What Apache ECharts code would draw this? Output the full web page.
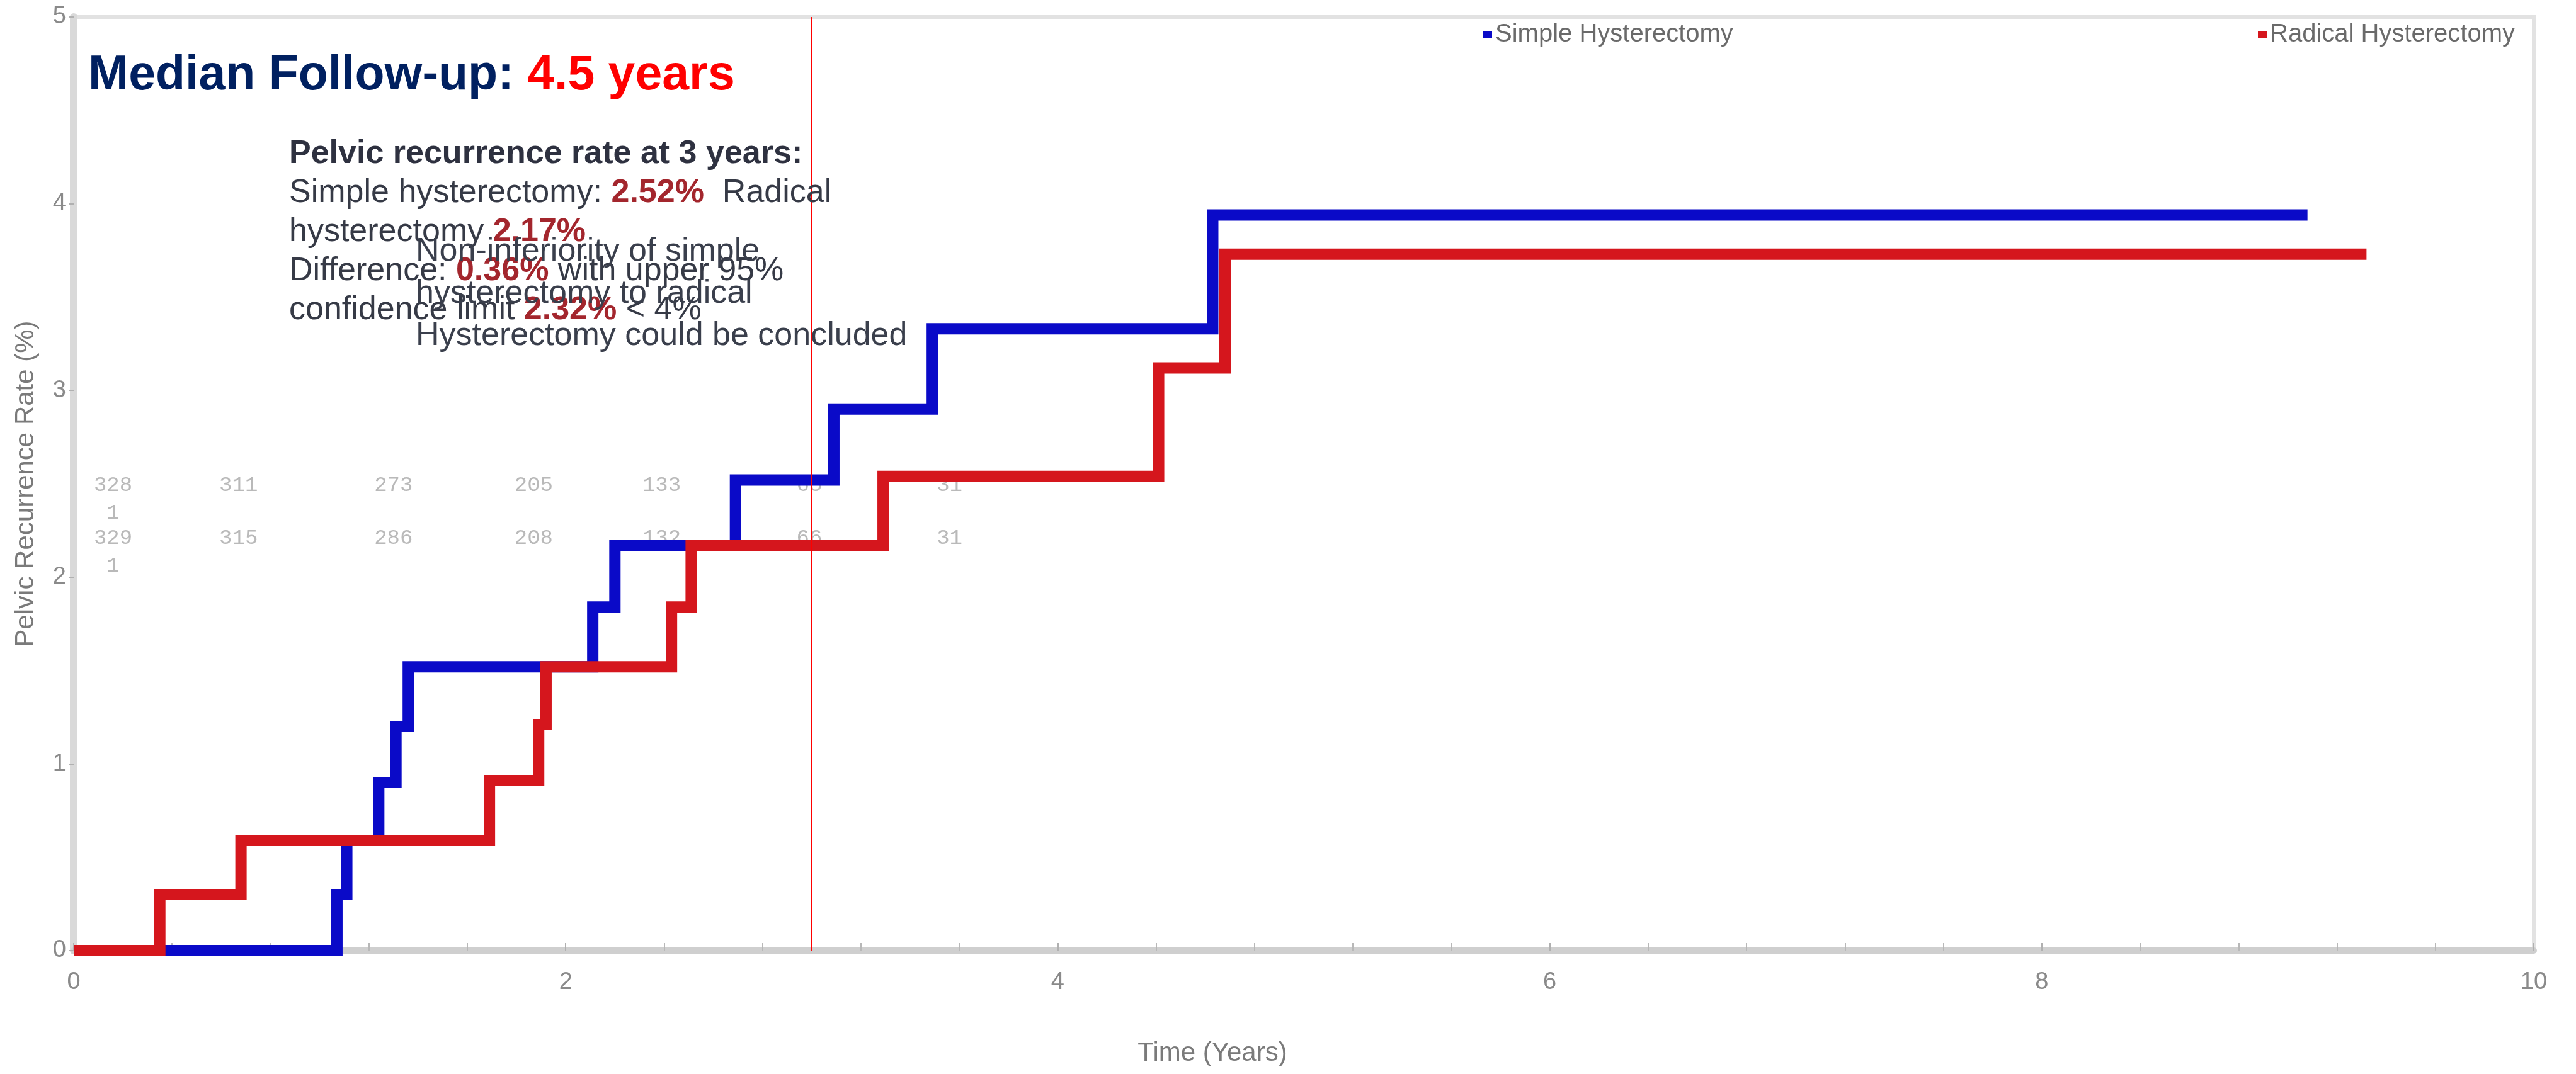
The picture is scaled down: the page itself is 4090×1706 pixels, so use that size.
<!DOCTYPE html>
<html>
<head>
<meta charset="utf-8">
<script src="https://cdn.jsdelivr.net/npm/echarts@6/dist/echarts.min.js"></script>
<style>
  html, body { margin: 0; padding: 0; background: #ffffff; }
  #chart { width: 4090px; height: 1706px; }
</style>
</head>
<body>
<div id="chart"></div>
<script>
// ---- data ----
const seriesNames = ['Simple Hysterectomy', 'Radical Hysterectomy'];
const simpleTimes  = [0, 1.07, 1.11, 1.24, 1.31, 1.36, 2.11, 2.20, 2.69, 3.09, 3.49, 4.63, 9.08];
const simpleRates  = [0, 0.30, 0.59, 0.90, 1.20, 1.52, 1.84, 2.17, 2.52, 2.90, 3.33, 3.94, 3.94];
const radicalTimes = [0, 0.35, 0.68, 1.69, 1.89, 1.92, 2.43, 2.51, 3.29, 4.41, 4.68, 9.32];
const radicalRates = [0, 0.30, 0.59, 0.91, 1.21, 1.52, 1.84, 2.17, 2.54, 3.12, 3.73, 3.73];
const landmarkYear = 3;
const riskTimes   = [0.16, 0.67, 1.30, 1.87, 2.39, 2.99, 3.56];
const riskSimple  = ['328\n1', '311', '273', '205', '133', '65', '31'];
const riskRadical = ['329\n1', '315', '286', '208', '132', '66', '31'];
const xTicks = [0, 2, 4, 6, 8, 10];
const yTicks = [0, 1, 2, 3, 4, 5];

const FONT = '"Liberation Sans", Arial, sans-serif';
const RISK_ROW1 = 2.49, RISK_ROW2 = 2.21;

const zip = (a, b) => a.map((v, i) => [v, b[i]]);

const chart = echarts.init(document.getElementById('chart'), null, { renderer: 'canvas' });

const riskLabel = {
  show: true, position: 'inside', verticalAlign: 'top', align: 'center', offset: [0, -22],
  formatter: p => p.data[2], fontFamily: '"Liberation Mono", "DejaVu Sans Mono", monospace',
  fontSize: 34, lineHeight: 44, color: '#a8a8a8'
};

const option = {
  animation: false,
  backgroundColor: '#ffffff',
  grid: { left: 117, right: 67, top: 27, bottom: 196, show: true, borderColor: '#e2e2e2', borderWidth: 6 },
  legend: [
    { data: [seriesNames[0]], left: 2350, top: 28, icon: 'rect', itemWidth: 14, itemHeight: 10,
      textStyle: { fontFamily: FONT, fontSize: 40, color: '#6a6a6a', lineHeight: 44 } },
    { data: [seriesNames[1]], left: 3580, top: 28, icon: 'rect', itemWidth: 14, itemHeight: 10,
      textStyle: { fontFamily: FONT, fontSize: 40, color: '#6a6a6a', lineHeight: 44 } }
  ],
  xAxis: {
    type: 'value', min: xTicks[0], max: xTicks[xTicks.length - 1], interval: 2,
    name: 'Time (Years)', nameLocation: 'middle', nameGap: 142,
    nameTextStyle: { fontFamily: FONT, fontSize: 42, color: '#7a7a7a', padding: [0, 290, 0, 0] },
    axisLine: { show: true, lineStyle: { color: '#cfcfcf', width: 10 } },
    axisTick: { show: true, inside: true, length: 12, lineStyle: { color: '#b0b0b0', width: 2 } },
    minorTick: { show: true, splitNumber: 5, length: 12, lineStyle: { color: '#b8b8b8', width: 2 } },
    axisLabel: { fontFamily: FONT, fontSize: 38, color: '#8a8a8a', margin: 32 },
    splitLine: { show: false }
  },
  yAxis: {
    type: 'value', min: yTicks[0], max: yTicks[yTicks.length - 1], interval: 1,
    name: 'Pelvic Recurrence Rate (%)', nameLocation: 'middle', nameGap: 55,
    nameTextStyle: { fontFamily: FONT, fontSize: 42, color: '#7a7a7a' },
    axisLine: { show: true, lineStyle: { color: '#d9d9d9', width: 12 } },
    axisTick: { show: true, length: 8, lineStyle: { color: '#b0b0b0', width: 2 } },
    axisLabel: { fontFamily: FONT, fontSize: 38, color: '#8a8a8a', margin: 12 },
    splitLine: { show: false }
  },
  series: [
    { name: 'riskSimple', type: 'scatter', symbolSize: 0, silent: true, z: 1,
      data: riskTimes.map((t, i) => [t, RISK_ROW1, riskSimple[i]]), label: riskLabel },
    { name: 'riskRadical', type: 'scatter', symbolSize: 0, silent: true, z: 1,
      data: riskTimes.map((t, i) => [t, RISK_ROW2, riskRadical[i]]), label: riskLabel },
    { name: seriesNames[0], type: 'line', step: 'end', showSymbol: false, symbol: 'none', clip: false, z: 3,
      color: '#0a0ac8',
      lineStyle: { color: '#0a0ac8', width: 18, cap: 'butt', join: 'miter' },
      data: zip(simpleTimes, simpleRates) },
    { name: seriesNames[1], type: 'line', step: 'end', showSymbol: false, symbol: 'none', clip: false, z: 4,
      color: '#d5161d',
      lineStyle: { color: '#d5161d', width: 18, cap: 'butt', join: 'miter' },
      data: zip(radicalTimes, radicalRates),
      markLine: { silent: true, symbol: ['none', 'none'], label: { show: false },
        lineStyle: { color: '#ff0000', width: 2, type: 'solid' },
        data: [{ xAxis: landmarkYear }] } }
  ],
  graphic: [
    { type: 'text', left: 140, top: 82, z: 10,
      style: { text: '{a|Median Follow-up: }{b|4.5 years}',
        rich: {
          a: { fill: '#002060', fontSize: 77, fontWeight: 'bold', fontFamily: FONT, lineHeight: 90 },
          b: { fill: '#ff0000', fontSize: 77, fontWeight: 'bold', fontFamily: FONT, lineHeight: 90 }
        } } },
    { type: 'text', left: 459, top: 219, z: 10,
      style: { text: '{h|Pelvic recurrence rate at 3 years:}\n' +
                     '{n|Simple hysterectomy: }{r|2.52%}{n|  Radical}\n' +
                     '{n|hysterectomy }{r|2.17%}\n' +
                     '{n|Difference: }{r|0.36%}{n| with upper 95%}\n' +
                     '{n|confidence limit }{r|2.32%}{n| < 4%}',
        rich: {
          h: { fill: '#2e3140', fontSize: 52, fontWeight: 'bold', fontFamily: FONT, lineHeight: 62 },
          n: { fill: '#363a46', fontSize: 52, fontFamily: FONT, lineHeight: 62 },
          r: { fill: '#a3262d', fontSize: 52, fontWeight: 'bold', fontFamily: FONT, lineHeight: 62 }
        } } },
    { type: 'text', left: 660, top: 366, z: 11,
      style: { text: 'Non-inferiority of simple\nhysterectomy to radical\nHysterectomy could be concluded',
        fill: '#3a3f4c', fontSize: 52, fontFamily: FONT, lineHeight: 67 } }
  ]
};

chart.setOption(option);
</script>
</body>
</html>
